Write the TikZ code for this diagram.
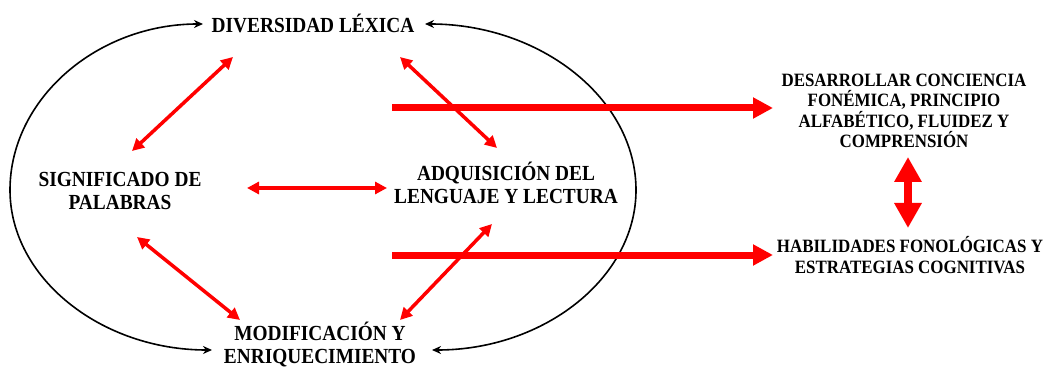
\documentclass[tikz,border=0pt]{standalone}
\usepackage{fontspec}
\setmainfont{Liberation Serif}[FakeStretch=0.9]
\usetikzlibrary{arrows.meta}
\begin{document}
\begin{tikzpicture}[x=1pt,y=-1pt,
  lbl/.style={font=\bfseries\fontsize{21.5}{23}\selectfont, align=center, inner sep=0pt},
  rlbl/.style={font=\bfseries\fontsize{18.8}{20.5}\selectfont, align=center, inner sep=0pt},
  redthin/.style={red, line width=3.5pt, {Triangle[length=12pt,width=12pt]}-{Triangle[length=12pt,width=12pt]}},
  redthick/.style={red, line width=7pt, -{Triangle[length=20pt,width=20pt]}},
  redvert/.style={red, line width=8pt, {Triangle[length=25pt,width=26pt]}-{Triangle[length=25pt,width=26pt]}},
  blk/.style={black, line width=1.6pt, {Stealth[length=9pt,width=8pt]}-{Stealth[length=9pt,width=8pt]}}]
\useasboundingbox (0,0) rectangle (1051,371);

\node[lbl] (div) at (313,23) {DIVERSIDAD LÉXICA};
\node[lbl] (sig) at (120,191) {SIGNIFICADO DE\\PALABRAS};
\node[lbl] (adq) at (506,182.5) {ADQUISICIÓN DEL\\LENGUAJE Y LECTURA};
\node[lbl] (mod) at (320,344.5) {MODIFICACIÓN Y\\ENRIQUECIMIENTO};
\node[rlbl] (des) at (904,111) {DESARROLLAR CONCIENCIA\\FONÉMICA, PRINCIPIO\\ALFABÉTICO, FLUIDEZ Y\\COMPRENSIÓN};
\node[rlbl] (hab) at (910,255) {HABILIDADES FONOLÓGICAS Y\\ESTRATEGIAS COGNITIVAS};

% black arcs
\coordinate (divL) at (203,24);
\coordinate (divR) at (425,24);
\coordinate (modL) at (212,350);
\coordinate (modR) at (432,350);
\draw[blk] (divL) .. controls (97,24) and (10,99) .. (10,190) .. controls (10,278) and (101,350) .. (modL);
\draw[blk] (divR) .. controls (541,24) and (636,99) .. (636,190) .. controls (636,278) and (544,350) .. (modR);

% red thin arrows
\coordinate (a1) at (233,57);  \coordinate (b1) at (132,151);
\coordinate (a2) at (400,57);  \coordinate (b2) at (497,148);
\coordinate (a3) at (247,188); \coordinate (b3) at (387,188);
\coordinate (a4) at (137,237); \coordinate (b4) at (240,320);
\coordinate (a5) at (492,224); \coordinate (b5) at (400,320);
\draw[redthin] (a1) -- (b1);
\draw[redthin] (a2) -- (b2);
\draw[redthin] (a3) -- (b3);
\draw[redthin] (a4) -- (b4);
\draw[redthin] (a5) -- (b5);

% thick arrows
\coordinate (t1) at (392,108); \coordinate (e1) at (773,108);
\coordinate (t2) at (392,255); \coordinate (e2) at (773,255);
\draw[redthick] (t1) -- (e1);
\draw[redthick] (t2) -- (e2);

% vertical double arrow
\coordinate (v1) at (908,157); \coordinate (v2) at (908,228);
\draw[redvert] (v1) -- (v2);
\end{tikzpicture}
\end{document}
